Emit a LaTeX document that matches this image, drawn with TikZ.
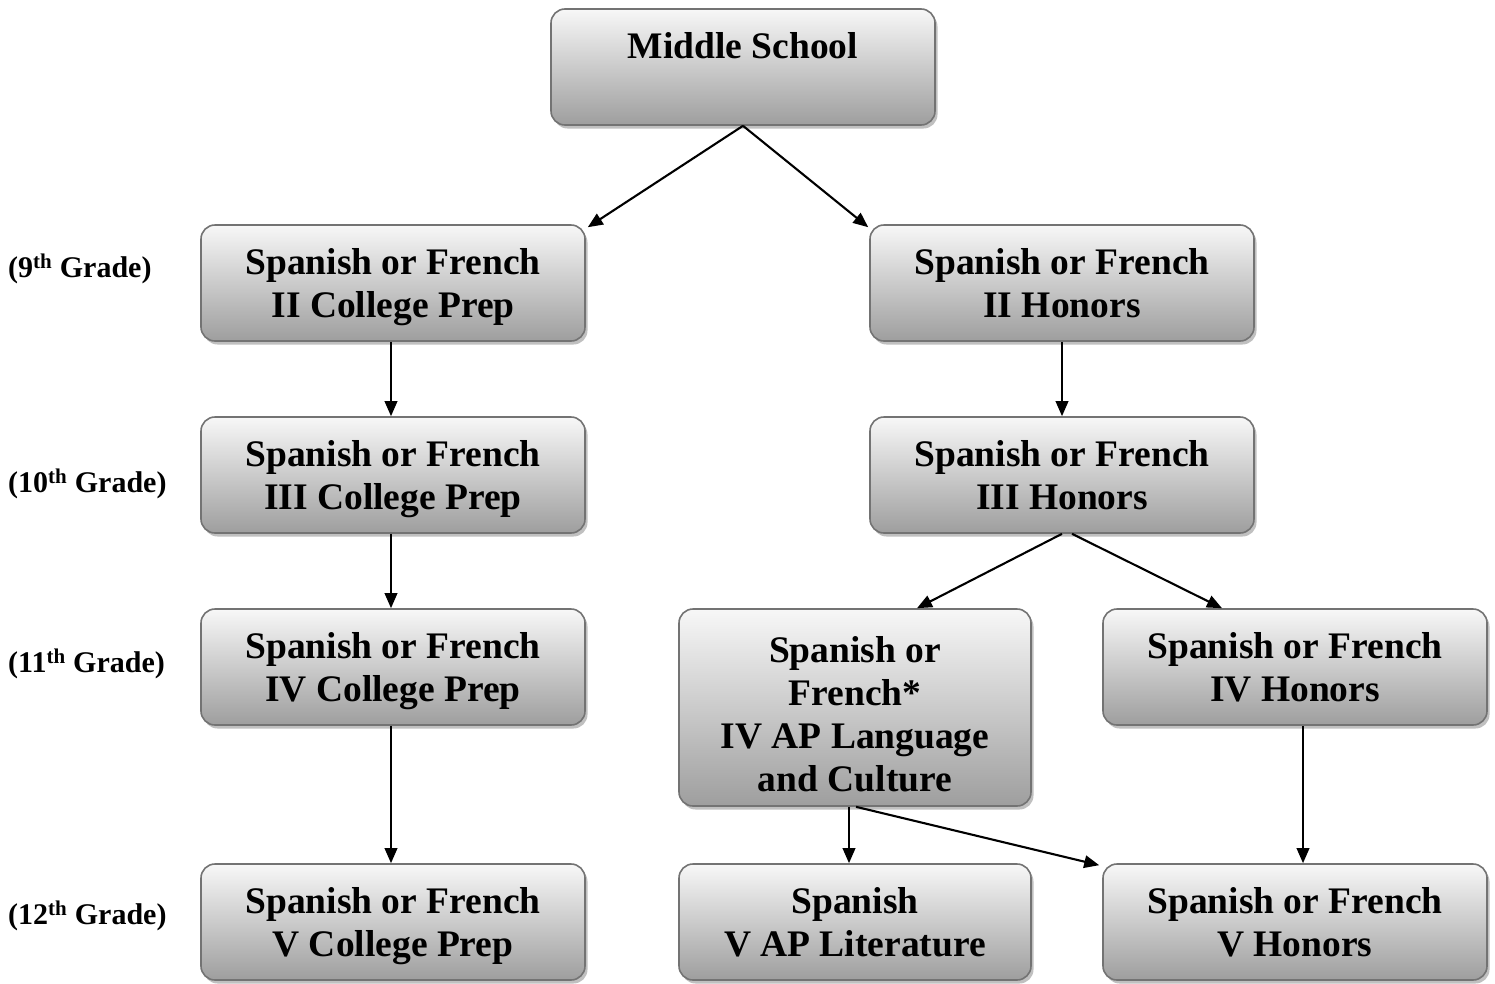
\documentclass[tikz,border=0pt]{standalone}
\usepackage{fontspec}
\setmainfont{Liberation Serif}
\usetikzlibrary{shadows,arrows.meta,calc}
\newcommand{\tstr}{\rule{0pt}{38.5pt}}
\begin{document}
\begin{tikzpicture}[x=1pt,y=-1pt,
  box/.style={draw=black!55, line width=1.6pt, rounded corners=14pt,
    top color=white!97!black, bottom color=black!38,
    drop shadow={shadow xshift=2.5pt, shadow yshift=-3.5pt, fill=black!45, opacity=.55},
    minimum width=384pt, minimum height=116pt, align=center,
    font=\bfseries\fontsize{37.5}{43}\selectfont, inner sep=0pt},
  narrow/.style={minimum width=352pt},
  grade/.style={anchor=west, font=\bfseries\fontsize{30}{34}\selectfont, inner sep=0pt},
  arr/.style={line width=2.1pt, -{Triangle[length=15pt,width=12.5pt]}}]
\useasboundingbox (0,0) rectangle (1495,983);

\node[box] (ms) at (743,67) {\tstr Middle School\\\strut};
\node[box] (l1) at (393,283) {\tstr Spanish or French\\II College Prep\strut};
\node[box] (r1) at (1062,283) {\tstr Spanish or French\\II Honors\strut};
\node[box] (l2) at (393,475) {\tstr Spanish or French\\III College Prep\strut};
\node[box] (r2) at (1062,475) {\tstr Spanish or French\\III Honors\strut};
\node[box] (l3) at (393,667) {\tstr Spanish or French\\IV College Prep\strut};
\node[box,narrow,minimum height=197pt] (ap) at (855,707.5) {};
\node[align=center, inner sep=0pt, font=\bfseries\fontsize{37.5}{43}\selectfont] (apt) at (855,718)
  {\strut Spanish or\\French*\\IV AP Language\\and Culture\strut};
\node[box] (r3) at (1295,667) {\tstr Spanish or French\\IV Honors\strut};
\node[box] (l4) at (393,922) {\tstr Spanish or French\\V College Prep\strut};
\node[box,narrow] (lit) at (855,922) {\tstr Spanish\\V AP Literature\strut};
\node[box] (vh) at (1295,922) {\tstr Spanish or French\\V Honors\strut};

\node[grade] (g9) at (8,269) {(9\textsuperscript{th} Grade)};
\node[grade] (g10) at (8,484) {(10\textsuperscript{th} Grade)};
\node[grade] (g11) at (8,664) {(11\textsuperscript{th} Grade)};
\node[grade] (g12) at (8,916) {(12\textsuperscript{th} Grade)};

\draw[arr] (ms.south) -- ([shift={(2pt,-3pt)}]l1.north east);
\draw[arr] (ms.south) -- ([shift={(-1pt,-3pt)}]r1.north west);
\draw[arr] ([xshift=-2pt]l1.south) -- ([xshift=-2pt]l2.north);
\draw[arr] (r1.south) -- (r2.north);
\draw[arr] ([xshift=-2pt]l2.south) -- ([xshift=-2pt]l3.north);
\draw[arr] ([xshift=-2pt]l3.south) -- ([xshift=-2pt]l4.north);
\draw[arr] (r2.south) -- ([xshift=62pt]ap.north);
\draw[arr] ([xshift=10pt]r2.south) -- ([xshift=-73pt]r3.north);
\draw[arr] ([xshift=-6pt]ap.south) -- ([xshift=-6pt]lit.north);
\draw[arr] ([xshift=1pt]ap.south) -- ([shift={(-3pt,-2pt)}]vh.north west);
\draw[arr] ([xshift=8pt]r3.south) -- ([xshift=8pt]vh.north);
\end{tikzpicture}
\end{document}
